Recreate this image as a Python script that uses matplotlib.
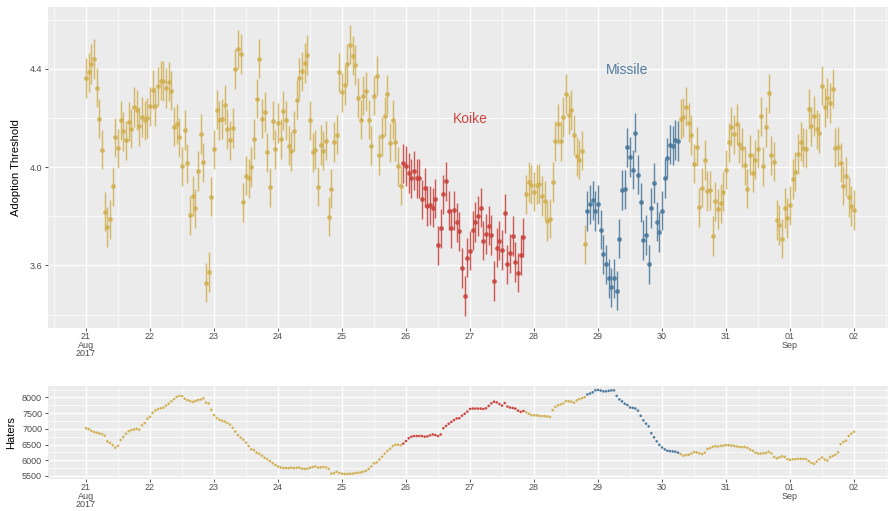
import numpy as np
import pandas as pd
import matplotlib
matplotlib.use('Agg')
import matplotlib.pyplot as plt
import matplotlib.dates as mdates
from matplotlib.ticker import FixedLocator, MultipleLocator, FuncFormatter

plt.rcParams['font.family'] = ['Liberation Sans', 'DejaVu Sans']

# ---- data: hourly, 2017-08-21 00:00 .. 2017-09-02 00:00 ----
start = '2017-08-21 00:00'

threshold = [
    # Aug 21
    4.363, 4.386, 4.42, 4.44, 4.324, 4.197, 4.071, 3.819, 3.756, 3.788, 3.922, 4.122,
    4.076, 4.19, 4.146, 4.109, 4.185, 4.156, 4.245, 4.233, 4.166, 4.204, 4.19, 4.2,
    # Aug 22
    4.248, 4.316, 4.248, 4.329, 4.352, 4.351, 4.322, 4.348, 4.312, 4.165, 4.176, 4.122,
    4.003, 4.151, 4.016, 3.804, 3.882, 3.833, 3.984, 4.135, 4.019, 3.529, 3.573, 3.880,
    # Aug 23
    4.073, 4.234, 4.19, 4.196, 4.254, 4.155, 4.109, 4.159, 4.4, 4.479, 4.461, 3.857,
    3.965, 3.954, 4.0, 4.114, 4.279, 4.442, 4.197, 4.224, 4.061, 3.918, 4.189, 4.072,
    # Aug 24
    4.18, 4.114, 4.23, 4.19, 4.087, 4.064, 4.147, 4.275, 4.363, 4.39, 4.424, 4.456,
    4.19, 4.06, 4.071, 3.921, 4.09, 4.067, 4.108, 3.799, 3.913, 4.102, 4.132, 4.386,
    # Aug 25
    4.305, 4.335, 4.42, 4.499, 4.454, 4.416, 4.282, 4.193, 4.291, 4.309, 4.193, 4.087,
    4.291, 4.373, 4.05, 4.125, 4.207, 4.297, 4.1, 4.193, 4.103, 4.003, 3.925, 4.016,
    # Aug 26
    4.005, 3.976, 3.955, 3.986, 3.955, 3.955, 3.869, 3.917, 3.842, 3.845, 3.835, 3.872,
    3.682, 3.751, 3.89, 3.942, 3.823, 3.751, 3.824, 3.776, 3.739, 3.589, 3.475, 3.632,
    # Aug 27
    3.66, 3.743, 3.777, 3.801, 3.835, 3.70, 3.728, 3.761, 3.724, 3.537, 3.672, 3.70,
    3.663, 3.812, 3.605, 3.649, 3.72, 3.614, 3.571, 3.642, 3.714, 3.89, 3.939, 3.929,
    # Aug 28
    3.90, 3.928, 3.932, 3.883, 3.864, 3.781, 3.79, 3.939, 4.106, 4.176, 4.106, 4.204,
    4.298, 4.214, 4.233, 4.131, 4.044, 4.03, 4.067, 3.686, 3.822, 3.849, 3.865, 3.822,
    # Aug 29
    3.849, 3.746, 3.645, 3.604, 3.547, 3.51, 3.547, 3.497, 3.709, 3.907, 3.91, 4.08,
    4.041, 3.989, 4.141, 3.969, 3.857, 3.703, 3.724, 3.604, 3.834, 3.935, 3.778, 3.736,
    # Aug 30
    3.823, 3.955, 4.037, 4.091, 4.088, 4.11, 4.106, 4.196, 4.203, 4.246, 4.181, 4.131,
    4.014, 4.084, 3.837, 3.917, 4.029, 3.903, 3.905, 3.72, 3.861, 3.83, 3.853, 3.90,
    # Aug 31
    3.989, 4.101, 4.165, 4.133, 4.176, 4.095, 4.078, 4.007, 3.913, 4.05, 3.978, 4.031,
    4.075, 4.207, 4.004, 4.163, 4.301, 4.048, 4.022, 3.785, 3.765, 3.709, 3.834, 3.793,
    # Sep 01
    3.845, 3.952, 3.982, 4.053, 4.103, 4.079, 4.075, 4.237, 4.166, 4.208, 4.154, 4.139,
    4.331, 4.244, 4.282, 4.261, 4.32, 4.079, 4.084, 4.018, 3.925, 3.963, 3.879, 3.842,
    # Sep 02
    3.826,
]
ci_half = 0.08

haters = [
    # Aug 21
    7020, 6990, 6940, 6900, 6875, 6855, 6830, 6780, 6600, 6550, 6480, 6400,
    6460, 6645, 6740, 6845, 6925, 6960, 6980, 7000, 6970, 7115, 7185, 7325,
    # Aug 22
    7385, 7510, 7585, 7625, 7655, 7675, 7740, 7800, 7875, 7950, 8020, 8050,
    8040, 7960, 7915, 7885, 7855, 7885, 7915, 7935, 7970, 7835, 7810, 7605,
    # Aug 23
    7435, 7345, 7290, 7260, 7230, 7185, 7135, 7030, 6915, 6800, 6720, 6655,
    6560, 6450, 6345, 6320, 6240, 6200, 6145, 6075, 6030, 5970, 5905, 5845,
    # Aug 24
    5800, 5770, 5750, 5750, 5750, 5760, 5750, 5760, 5760, 5730, 5720, 5730,
    5760, 5780, 5800, 5760, 5770, 5780, 5770, 5720, 5570, 5590, 5630, 5590,
    # Aug 25
    5570, 5560, 5560, 5570, 5570, 5590, 5600, 5610, 5635, 5665, 5720, 5800,
    5900, 5930, 6020, 6110, 6210, 6290, 6360, 6450, 6490, 6490, 6480, 6530,
    # Aug 26
    6610, 6700, 6750, 6770, 6770, 6770, 6770, 6750, 6760, 6790, 6820, 6800,
    6770, 6820, 7020, 7090, 7160, 7220, 7280, 7330, 7340, 7420, 7480, 7550,
    # Aug 27
    7635, 7645, 7645, 7645, 7645, 7635, 7655, 7730, 7810, 7865, 7845, 7790,
    7740, 7820, 7710, 7680, 7665, 7645, 7580, 7540, 7570, 7530, 7480, 7440,
    # Aug 28
    7430, 7430, 7415, 7405, 7405, 7395, 7375, 7595, 7700, 7750, 7780, 7810,
    7885, 7875, 7865, 7835, 7905, 7950, 7980, 8010, 8095, 8125, 8165, 8230,
    # Aug 29
    8240, 8220, 8195, 8195, 8210, 8225, 8225, 8050, 7940, 7875, 7800, 7760,
    7680, 7670, 7650, 7580, 7415, 7270, 7165, 7080, 6860, 6730, 6600, 6490,
    # Aug 30
    6405, 6345, 6300, 6290, 6280, 6270, 6240, 6195, 6145, 6165, 6175, 6210,
    6260, 6250, 6220, 6195, 6240, 6355, 6385, 6425, 6445, 6435, 6455, 6465,
    # Aug 31
    6480, 6480, 6465, 6455, 6435, 6425, 6415, 6425, 6395, 6340, 6300, 6240,
    6210, 6210, 6220, 6230, 6270, 6220, 6105, 6060, 6090, 6125, 6105, 6030,
    # Sep 01
    6010, 6030, 6030, 6040, 6040, 6040, 6030, 5970, 5915, 5885, 5955, 6030,
    6085, 6020, 5990, 6095, 6135, 6175, 6250, 6510, 6585, 6625, 6770, 6845,
    # Sep 02
    6905,
]

# event windows
koike = ('2017-08-25 23:00', '2017-08-27 20:00')
missile = ('2017-08-28 20:00', '2017-08-30 06:00')

GOLD = '#D2B257'
RED = '#CA4841'
BLUE = '#4E7B9E'

df = pd.DataFrame({'time': pd.date_range(start, periods=len(threshold), freq='h'),
                   'threshold': threshold,
                   'haters': haters})
df['color'] = GOLD
df.loc[df.time.between(*koike), 'color'] = RED
df.loc[df.time.between(*missile), 'color'] = BLUE

# ---- figure ----
fig = plt.figure(figsize=(8.88, 5.11), dpi=100)
ax1 = fig.add_axes([0.0536, 0.3581, 0.9514, 0.6282])
ax2 = fig.add_axes([0.0536, 0.0626, 0.9514, 0.1820])

t0 = pd.Timestamp('2017-08-21')
xlim = (mdates.date2num(t0 - pd.Timedelta(hours=14.4)),
        mdates.date2num(t0 + pd.Timedelta(days=12, hours=14.4)))


def tick_fmt(x, pos):
    d = mdates.num2date(x)
    if pos == 0:
        return d.strftime('%d\n%b\n%Y')
    if d.day == 1:
        return d.strftime('%d\n%b')
    return d.strftime('%d')


def gg_style(ax):
    ax.set_facecolor('#EBEBEB')
    for s in ax.spines.values():
        s.set_visible(False)
    ax.set_xlim(*xlim)
    ax.xaxis.set_major_locator(mdates.DayLocator())
    ax.xaxis.set_minor_locator(mdates.HourLocator(byhour=[12]))
    ax.xaxis.set_major_formatter(FuncFormatter(tick_fmt))
    ax.grid(which='major', color='white', linewidth=1.0)
    ax.grid(which='minor', color='white', linewidth=0.5)
    ax.set_axisbelow(True)
    ax.tick_params(which='major', length=2.5, width=0.6, color='#333333',
                   labelsize=6.5, labelcolor='#4D4D4D', pad=1.5)
    ax.tick_params(axis='x', which='major', pad=0.5)
    ax.tick_params(which='minor', length=0)


# top: adoption threshold with error bars
gg_style(ax1)
for c, g in df.groupby('color'):
    ax1.errorbar(g.time, g.threshold, yerr=ci_half, fmt='o', ms=2.4,
                 color=c, ecolor=c, elinewidth=1.0, alpha=0.9, capsize=0)
ax1.set_ylim(3.345, 4.652)
ax1.yaxis.set_major_locator(FixedLocator([3.6, 4.0, 4.4]))
ax1.yaxis.set_minor_locator(FixedLocator([3.4, 3.8, 4.2, 4.6]))
ax1.yaxis.set_major_formatter(FuncFormatter(lambda v, p: f'{v:.1f}'))
ax1.set_ylabel('Adoption Threshold', fontsize=8, labelpad=6)

ax1.text(pd.Timestamp('2017-08-27 00:00'), 4.195, 'Koike', color=RED,
         fontsize=10, ha='center', va='center')
ax1.text(pd.Timestamp('2017-08-29 11:00'), 4.395, 'Missile', color=BLUE,
         fontsize=10, ha='center', va='center')

# bottom: haters
gg_style(ax2)
ax2.scatter(df.time, df.haters, s=3.5, c=df.color, linewidths=0)
ax2.set_ylim(5400, 8365)
ax2.yaxis.set_major_locator(MultipleLocator(500))
ax2.yaxis.set_minor_locator(MultipleLocator(250))
ax2.set_ylabel('Haters', fontsize=8, labelpad=4)

# tighter multi-line date labels
fig.canvas.draw()
for ax in (ax1, ax2):
    for tk in ax.xaxis.get_major_ticks():
        tk.label1.set_linespacing(0.95)

fig.savefig('out.png', dpi=100)
